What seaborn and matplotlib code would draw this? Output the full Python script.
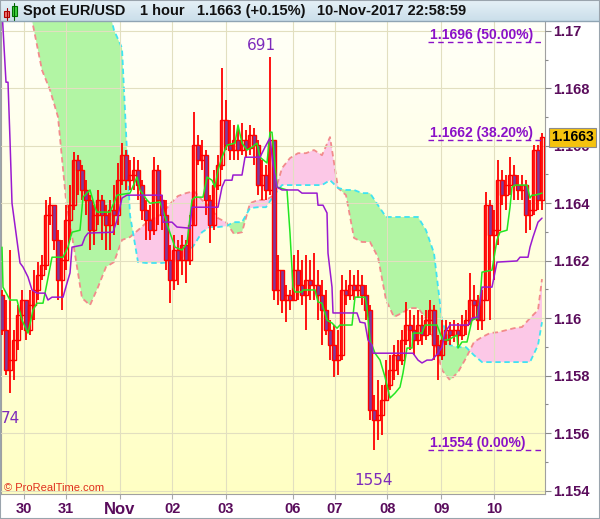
import numpy as np
import matplotlib
matplotlib.use("Agg")
import matplotlib.pyplot as plt
import matplotlib.transforms as mtransforms
from matplotlib.colors import LinearSegmentedColormap
from matplotlib.patches import Rectangle
from matplotlib.lines import Line2D
import seaborn as sns

# EUR/USD hourly bars, bar 0 = first visible hour (30 Oct 2017)
closes = [
    1.15958, 1.15819, 1.15854, 1.15924, 1.16011, 1.16063, 1.15958, 1.16045, 1.16098, 1.16150,
    1.16185, 1.16359, 1.16393, 1.16272, 1.16132, 1.16202, 1.16341, 1.16393, 1.16550, 1.16515,
    1.16446, 1.16411, 1.16306, 1.16359, 1.16411, 1.16359, 1.16324, 1.16376, 1.16359, 1.16480,
    1.16567, 1.16480, 1.16498, 1.16515, 1.16463, 1.16376, 1.16341, 1.16306, 1.16515, 1.16411,
    1.16359, 1.16202, 1.16132, 1.16237, 1.16202, 1.16254, 1.16202, 1.16324, 1.16602, 1.16550,
    1.16567, 1.16411, 1.16324, 1.16463, 1.16533, 1.16689, 1.16602, 1.16585, 1.16620, 1.16585,
    1.16620, 1.16592, 1.16637, 1.16602, 1.16463, 1.16498, 1.16446, 1.16620, 1.16098, 1.16167,
    1.16063, 1.16080, 1.16063, 1.16167, 1.16115, 1.16080, 1.16132, 1.16115, 1.16115, 1.16080,
    1.16028, 1.15958, 1.15906, 1.15854, 1.15871, 1.16098, 1.16080, 1.16115, 1.16098, 1.16115,
    1.16080, 1.16028, 1.15680, 1.15645, 1.15663, 1.15715, 1.15767, 1.15819, 1.15871, 1.15854,
    1.15924, 1.15976, 1.15958, 1.15924, 1.15976, 1.15941, 1.15993, 1.16028, 1.15906, 1.15871,
    1.15924, 1.15958, 1.15941, 1.15958, 1.15941, 1.15976, 1.15993, 1.16063, 1.16045, 1.15993,
    1.16063, 1.16393, 1.16289, 1.16306, 1.16480, 1.16428, 1.16463, 1.16498, 1.16463, 1.16446,
    1.16463, 1.16359, 1.16376, 1.16585, 1.16411, 1.16630]
highs = [
    1.16098, 1.16063, 1.16237, 1.15958, 1.16045, 1.16098, 1.16063, 1.16098, 1.16167, 1.16195,
    1.16219, 1.16411, 1.16421, 1.16393, 1.16306, 1.16272, 1.16393, 1.16463, 1.16578, 1.16567,
    1.16533, 1.16480, 1.16428, 1.16393, 1.16446, 1.16428, 1.16393, 1.16411, 1.16463, 1.16540,
    1.16609, 1.16585, 1.16550, 1.16560, 1.16550, 1.16480, 1.16411, 1.16393, 1.16560, 1.16533,
    1.16428, 1.16411, 1.16254, 1.16289, 1.16272, 1.16289, 1.16272, 1.16359, 1.16717, 1.16637,
    1.16620, 1.16585, 1.16428, 1.16515, 1.16567, 1.16870, 1.16759, 1.16689, 1.16672, 1.16661,
    1.16679, 1.16654, 1.16672, 1.16661, 1.16620, 1.16550, 1.16533, 1.16910, 1.16620, 1.16219,
    1.16167, 1.16115, 1.16098, 1.16219, 1.16237, 1.16202, 1.16219, 1.16202, 1.16226, 1.16167,
    1.16132, 1.16098, 1.15993, 1.15976, 1.15958, 1.16150, 1.16132, 1.16167, 1.16150, 1.16167,
    1.16150, 1.16115, 1.16045, 1.15732, 1.15784, 1.15767, 1.15854, 1.15871, 1.15906, 1.15924,
    1.15958, 1.16056, 1.16028, 1.16011, 1.16028, 1.16011, 1.16028, 1.16063, 1.16045, 1.15941,
    1.15993, 1.15993, 1.15986, 1.15993, 1.15983, 1.16011, 1.16028, 1.16157, 1.16115, 1.16080,
    1.16098, 1.16439, 1.16411, 1.16376, 1.16550, 1.16515, 1.16498, 1.16560, 1.16533, 1.16498,
    1.16498, 1.16480, 1.16411, 1.16602, 1.16602, 1.16645]
lows = [
    1.15941, 1.15802, 1.15740, 1.15784, 1.15889, 1.15958, 1.15924, 1.15941, 1.15993, 1.16063,
    1.16132, 1.16167, 1.16324, 1.16237, 1.16063, 1.16028, 1.16167, 1.16272, 1.16376, 1.16428,
    1.16411, 1.16359, 1.16237, 1.16254, 1.16324, 1.16272, 1.16237, 1.16237, 1.16289, 1.16324,
    1.16463, 1.16446, 1.16446, 1.16446, 1.16411, 1.16341, 1.16272, 1.16272, 1.16289, 1.16324,
    1.16306, 1.16167, 1.16052, 1.16098, 1.16115, 1.16150, 1.16122, 1.16185, 1.16324, 1.16533,
    1.16515, 1.16359, 1.16261, 1.16306, 1.16446, 1.16515, 1.16585, 1.16550, 1.16550, 1.16550,
    1.16567, 1.16557, 1.16567, 1.16533, 1.16428, 1.16411, 1.16411, 1.16428, 1.16063, 1.16045,
    1.16018, 1.15986, 1.16028, 1.16063, 1.16063, 1.16045, 1.15958, 1.16063, 1.16063, 1.15993,
    1.15906, 1.15941, 1.15854, 1.15795, 1.15802, 1.15854, 1.16045, 1.16063, 1.16063, 1.16070,
    1.16045, 1.15993, 1.15645, 1.15540, 1.15576, 1.15593, 1.15715, 1.15750, 1.15784, 1.15802,
    1.15837, 1.15906, 1.15889, 1.15871, 1.15906, 1.15906, 1.15924, 1.15941, 1.15854, 1.15784,
    1.15854, 1.15906, 1.15906, 1.15917, 1.15906, 1.15924, 1.15941, 1.15976, 1.15993, 1.15958,
    1.15958, 1.16063, 1.15993, 1.16132, 1.16254, 1.16393, 1.16376, 1.16428, 1.16411, 1.16411,
    1.16411, 1.16296, 1.16306, 1.16359, 1.16376, 1.16376]
first_open = 1.16080
opens = [first_open] + closes[:-1]

# Ichimoku tenkan / kijun vertices (bar, price)
tenkan_bar = [0, 0.25, 2, 3.75, 5, 6.5, 7.75, 8.75, 10.25, 11.25, 12.5, 15.25, 16.5, 17.5,
              19.5, 20.25, 22, 23.25, 23.75, 27, 28.25, 28.75, 32, 33.75, 34.5, 36.25, 37,
              39.5, 40.25, 41.5, 43.25, 45, 46.25, 47.5, 48.25, 50.25, 51.25, 52.5, 53.25,
              54, 55, 56.25, 58.25, 59, 60, 61.25, 62.5, 63.75, 64.5, 66.25, 67, 67.5, 68,
              68.75, 71.25, 72, 72.75, 73.25, 75, 75.25, 78.25, 79, 80, 81.25, 82.5, 83.75,
              84.5, 87.5, 88.25, 90.75, 91.25, 92, 93.25, 94.5, 95.75, 97, 98.25, 99.5,
              100.25, 101.25, 102.5, 102.75, 105, 105.75, 108.75, 109.5, 110.25, 111.5,
              113.75, 114, 115, 116.25, 117.5, 118.75, 119.5, 120, 122.5, 123.75, 124.5,
              126.25, 127, 127.5, 128.25, 131.25, 132, 132.5, 133.25, 135]
tenkan_val = [1.16247, 1.16108, 1.16063, 1.16063, 1.15993, 1.15948, 1.16028, 1.16052, 1.16052,
              1.16122, 1.16212, 1.16212, 1.16247, 1.16299, 1.16306, 1.16421, 1.16446, 1.16386,
              1.16369, 1.16369, 1.16411, 1.16428, 1.16435, 1.16491, 1.16446, 1.16411, 1.16400,
              1.16404, 1.16376, 1.16317, 1.16247, 1.16237, 1.16261, 1.16411, 1.16421, 1.16421,
              1.16491, 1.16480, 1.16456, 1.16515, 1.16560, 1.16602, 1.16609, 1.16672, 1.16609,
              1.16585, 1.16595, 1.16609, 1.16560, 1.16540, 1.16647, 1.16647, 1.16574, 1.16456,
              1.16446, 1.16296, 1.16108, 1.16091, 1.16091, 1.16098, 1.16098, 1.16056, 1.16052,
              1.15993, 1.15983, 1.15965, 1.15976, 1.15976, 1.16073, 1.16073, 1.16038, 1.15924,
              1.15878, 1.15854, 1.15795, 1.15722, 1.15739, 1.15760, 1.15809, 1.15896, 1.15896,
              1.15948, 1.15948, 1.15976, 1.15976, 1.15948, 1.15924, 1.15924, 1.15941, 1.15896,
              1.15917, 1.15917, 1.15993, 1.16000, 1.16063, 1.16160, 1.16167, 1.16272, 1.16299,
              1.16306, 1.16386, 1.16456, 1.16463, 1.16463, 1.16418, 1.16428, 1.16428, 1.16435]
kijun_bar = [0, 1, 1.5, 2, 2.5, 4.5, 5.25, 6.5, 7.5, 8.75, 10.75, 11.5, 12.5, 15.25, 16.25,
             17, 17.5, 20, 20.75, 21.5, 27.75, 28.75, 30, 31.25, 40, 40.25, 42.5, 43.75, 47,
             47.5, 54, 55, 55.75, 57.5, 57.75, 60, 60.75, 64.5, 65.75, 67, 67.75, 68.75, 70,
             74, 75, 78.75, 79, 80.25, 81.25, 81.5, 82.5, 82.75, 88.75, 89.5, 90.75, 91.5,
             92.5, 92.75, 102.75, 104, 105, 106.25, 107.5, 109, 110, 110.75, 112, 116.5,
             117.5, 119, 120, 122.5, 123.75, 128.75, 129.5, 131.5, 132, 132.75, 134, 135]
kijun_val = [1.17072, 1.16821, 1.16821, 1.16620, 1.16400, 1.16192, 1.16178, 1.16143, 1.16098,
             1.16087, 1.16087, 1.16063, 1.16073, 1.16073, 1.16122, 1.16157, 1.16247, 1.16254,
             1.16282, 1.16296, 1.16299, 1.16341, 1.16418, 1.16428, 1.16428, 1.16334, 1.16334,
             1.16317, 1.16313, 1.16386, 1.16386, 1.16456, 1.16480, 1.16480, 1.16498, 1.16498,
             1.16560, 1.16560, 1.16595, 1.16627, 1.16533, 1.16456, 1.16446, 1.16446, 1.16435,
             1.16435, 1.16393, 1.16393, 1.16366, 1.16226, 1.16108, 1.16018, 1.16018, 1.15986,
             1.15983, 1.15924, 1.15906, 1.15878, 1.15878, 1.15854, 1.15844, 1.15854, 1.15854,
             1.15878, 1.15899, 1.15951, 1.15976, 1.15976, 1.16000, 1.16004, 1.16108, 1.16108,
             1.16195, 1.16199, 1.16212, 1.16212, 1.16247, 1.16282, 1.16334, 1.16348]

# cloud spans, one value every second bar plus the last bar
cloud_bar = list(range(0, 136, 2)) + [135]
span_a = [1.1735, 1.1732, 1.1728, 1.1714, 1.17002, 1.16863, 1.16794, 1.16700, 1.16411, 1.16244,
          1.16070, 1.16045, 1.16108, 1.16178, 1.16195, 1.16272, 1.16282, 1.16306, 1.16331, 1.16348,
          1.16362, 1.16397, 1.16425, 1.16435, 1.16442, 1.16411, 1.16386, 1.16348, 1.16334, 1.16293,
          1.16299, 1.16400, 1.16411, 1.16411, 1.16428, 1.16522, 1.16557, 1.16574, 1.16574, 1.16585,
          1.16567, 1.16630, 1.16453, 1.16428, 1.16279, 1.16265, 1.16265, 1.16212, 1.16063, 1.16004,
          1.16018, 1.16035, 1.16035, 1.16000, 1.15924, 1.15819, 1.15784, 1.15812, 1.15861, 1.15917,
          1.15934, 1.15948, 1.15951, 1.15958, 1.15965, 1.15969, 1.16000, 1.16028, 1.16136]
span_b = [1.1740, 1.1740, 1.1740, 1.1740, 1.1740, 1.1740, 1.1740, 1.1740, 1.1740, 1.1740,
          1.1740, 1.1740, 1.1730, 1.1712, 1.17002, 1.16940, 1.16359, 1.16195, 1.16192, 1.16192,
          1.16192, 1.16195, 1.16202, 1.16219, 1.16254, 1.16299, 1.16317, 1.16317, 1.16320, 1.16334,
          1.16334, 1.16383, 1.16386, 1.16386, 1.16428, 1.16463, 1.16463, 1.16463, 1.16463, 1.16463,
          1.16463, 1.16480, 1.16453, 1.16446, 1.16446, 1.16435, 1.16435, 1.16393, 1.16352, 1.16352,
          1.16352, 1.16352, 1.16352, 1.16306, 1.16226, 1.15993, 1.15906, 1.15899, 1.15899, 1.15871,
          1.15847, 1.15847, 1.15847, 1.15847, 1.15847, 1.15847, 1.15847, 1.15906, 1.15986]

day_ticks = [5.42, 15.95, 29.45, 42.55, 55.95, 72.7, 83.22, 96.32, 109.82, 123.12]
day_labels = ["30", "31", "Nov", "02", "03", "06", "07", "08", "09", "10"]

fib_levels = [1.1696, 1.1662, 1.1554]
fib_labels = ["1.1696 (50.00%)", "1.1662 (38.20%)", "1.1554 (0.00%)"]

last_price = 1.1663
high_mark = (64.75, 1.16950, "691")
low_mark = (93.0, 1.15436, "1554")
left_mark = (-0.25, 1.15652, "74")

sns.set_theme(style="white")
plt.rcParams["font.family"] = ["Liberation Sans", "DejaVu Sans"]

W, H = 600, 519
def fx(px):
    return px / W
def fy(py):
    return 1 - py / H

fig = plt.figure(figsize=(6.0, 5.19), dpi=100)
fig.patch.set_facecolor("white")

ax = fig.add_axes([fx(1), fy(494), fx(545) - fx(1), fy(21) - fy(494)])
x0, x1 = -0.25, 135.75
y0, y1 = 1.15388, 1.17034

# background gradient
bg = LinearSegmentedColormap.from_list("bg", ["#ffffc4", "#fffff8"])
ax.imshow(np.linspace(0, 1, 256).reshape(-1, 1), cmap=bg, aspect="auto",
          extent=(x0, x1, y0, y1), origin="lower", zorder=0)

# cloud
a = np.array(span_a)
b = np.array(span_b)
ax.fill_between(cloud_bar, a, b, where=b >= a, interpolate=True, color="#b2f5a4", lw=0, zorder=1)
ax.fill_between(cloud_bar, a, b, where=a >= b, interpolate=True, color="#fcc8e7", lw=0, zorder=1)
ax.plot(cloud_bar, a, color="#f28b8b", lw=1.3, ls=(0, (3, 2)), zorder=2)
ax.plot(cloud_bar, b, color="#3fe3f2", lw=1.3, ls=(0, (3, 2)), zorder=2)

# candles
o = np.array(opens)
c = np.array(closes)
bars = np.arange(len(c))
ax.vlines(bars, lows, highs, color="#ff0000", lw=1.3, zorder=3)
up = c >= o
ax.bar(bars, np.abs(c - o), bottom=np.minimum(o, c), width=0.78,
       color=["none" if u else "#7e3a9c" for u in up],
       edgecolor="#ff0000", linewidth=1.0, zorder=3.5)

# tenkan / kijun
sns.lineplot(x=tenkan_bar, y=tenkan_val, ax=ax, color="#22e622", linewidth=1.1,
             estimator=None, sort=False, zorder=4)
sns.lineplot(x=kijun_bar, y=kijun_val, ax=ax, color="#9a1ad0", linewidth=1.1,
             estimator=None, sort=False, zorder=4)

# fibonacci levels
fib_col = "#8a10c8"
for lev, lab in zip(fib_levels, fib_labels):
    ax.hlines(lev, 106.5, x1, colors=fib_col, linestyles=(0, (4, 3)), lw=1.0, zorder=5)
    ax.text(107, lev, lab, color=fib_col, fontsize=10, fontweight="bold",
            ha="left", va="bottom", zorder=6)

for xm, ym, txt in (high_mark, low_mark):
    ax.text(xm, ym, txt, color="#7d2bbb", fontsize=11, family="DejaVu Sans",
            ha="center", va="center", zorder=6)
ax.text(left_mark[0], left_mark[1], left_mark[2], color="#7d2bbb", fontsize=11,
        family="DejaVu Sans", ha="left", va="center", zorder=6)

# axes
ax.set_xlim(x0, x1)
ax.set_ylim(y0, y1)
ax.set_xlabel("")
ax.set_ylabel("")
ax.yaxis.tick_right()
yt = np.round(np.arange(1.154, 1.1701, 0.002), 3)
ax.set_yticks(yt)
ax.set_yticklabels([f"{v:.3f}".rstrip("0").rstrip(".") for v in yt])
ax.set_yticks(np.round(np.arange(1.155, 1.170, 0.002), 3), minor=True)
ax.set_xticks(day_ticks)
ax.set_xticklabels(day_labels)
lab_col = "#5a0c5c"
ax.tick_params(axis="y", which="major", right=True, length=4, width=0.8, color="#8a8a8a",
               labelsize=10.5, labelcolor=lab_col, pad=2)
ax.tick_params(axis="y", which="minor", right=True, length=2.5, width=0.8, color="#8a8a8a")
ax.tick_params(axis="x", bottom=True, length=3.5, width=0.8, color="#a8a8a8",
               labelsize=10.5, labelcolor=lab_col, pad=2.5)
for t in ax.get_yticklabels() + ax.get_xticklabels():
    t.set_fontweight("bold")
ax.get_xticklabels()[2].set_fontsize(12)
ax.grid(True, which="major", color="#e2dfc0", lw=0.8)
ax.set_axisbelow(False)
for side in ("left", "bottom", "right"):
    ax.spines[side].set_color("#a0a0a0")
    ax.spines[side].set_linewidth(0.8)
ax.spines["top"].set_visible(False)

# last price box
trans = mtransforms.blended_transform_factory(ax.transAxes, ax.transData)
ax.text(1.0506, last_price, f"{last_price:.4f}", transform=trans, ha="center", va="center",
        fontsize=10, fontweight="bold", color="black", zorder=10, clip_on=False,
        bbox=dict(boxstyle="square,pad=0.18", fc="#f5c30f", ec="#8c8c8c", lw=0.8))

# title bar
tax = fig.add_axes([0, fy(21), 1, 21 / H])
tax.imshow(np.linspace(0, 1, 64).reshape(-1, 1),
           cmap=LinearSegmentedColormap.from_list("tb", ["#e6f1f7", "#cadeea"]),
           aspect="auto", extent=(0, 1, 0, 1))
tax.set_axis_off()
fig.add_artist(Line2D([0, 1], [fy(21), fy(21)], transform=fig.transFigure, color="#8fa4b3", lw=1))

# small candle icon
fig.add_artist(Line2D([fx(6.5)] * 2, [fy(8), fy(20)], transform=fig.transFigure, color="#a00000", lw=0.8))
fig.add_artist(Rectangle((fx(3.5), fy(17)), fx(5), 6 / H, transform=fig.transFigure,
                         fc="#f07070", ec="#b00000", lw=0.8))
fig.add_artist(Line2D([fx(14)] * 2, [fy(3), fy(20)], transform=fig.transFigure, color="#006000", lw=0.8))
fig.add_artist(Rectangle((fx(11.5), fy(16)), fx(5), 10 / H, transform=fig.transFigure,
                         fc="#40d040", ec="#007000", lw=0.8))

title_parts = [(23, "Spot EUR/USD"), (140, "1 hour"), (197, "1.1663 (+0.15%)"),
               (317, "10-Nov-2017 22:58:59")]
for px, txt in title_parts:
    fig.text(fx(px), fy(11), txt, fontsize=10.5, fontweight="bold", color="#111111",
             ha="left", va="center")

fig.text(fx(4), fy(488), "© ProRealTime.com", fontsize=8, color="#e0301e",
         ha="left", va="center")

fig.add_artist(Rectangle((0, 0), 1, 1, transform=fig.transFigure, fill=False,
                         ec="#9aa4ad", lw=1.5))

fig.savefig("out.png", dpi=100)
